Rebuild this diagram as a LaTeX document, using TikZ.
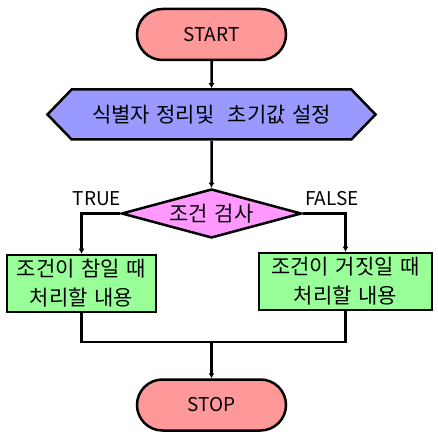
\documentclass[tikz,border=0pt]{standalone}
\usepackage{fontspec}
\setmainfont{Noto Sans CJK KR}[WordSpace=1.4]
\usetikzlibrary{arrows.meta,positioning,shapes.geometric,shapes.misc,shapes.symbols}
\definecolor{termred}{RGB}{255,153,153}
\definecolor{prepblue}{RGB}{153,153,255}
\definecolor{decpink}{RGB}{255,153,255}
\definecolor{procgreen}{RGB}{153,255,153}

\begin{document}
\begin{tikzpicture}[x=1pt,y=1pt,node distance=80pt,on grid,
  every node/.style={font=\fontsize{19}{29}\selectfont},
  kor/.style={font=\fontsize{21}{29}\selectfont},
  base/.style={draw,line width=2.5pt,inner sep=0pt},
  terminal/.style={base,rounded rectangle,fill=termred,minimum width=149pt,minimum height=51pt},
  prep/.style={base,kor,signal,signal to=west and east,signal pointer angle=92,fill=prepblue,minimum width=328pt,minimum height=50pt},
  decision/.style={base,kor,diamond,aspect=3.6,fill=decpink,minimum width=180pt,minimum height=49pt},
  process/.style={base,kor,rectangle,fill=procgreen,align=center,minimum height=57pt},
  line/.style={line width=2.5pt},
  >={Latex[length=5pt,width=6pt]}]
  \useasboundingbox (-211.5,34.5) rectangle (226.5,-400.5);

  \node[terminal] (start) {START};
  \node[prep] (init) [below=80pt of start] {식별자 정리및~~초기값 설정};
  \node[decision] (test) [below=99pt of init] {조건 검사};
  \node[process,minimum width=149pt] (yes) [below left=70pt and 130pt of test] {조건이 참일 때\\처리할 내용};
  \node[process,minimum width=173pt] (no) [below right=68pt and 134pt of test] {조건이 거짓일 때\\처리할 내용};
  \coordinate[below=128.5pt of test] (join);
  \node[terminal] (stop) [below=191.5pt of test] {STOP};

  \draw[line,->] (start) -- (init);
  \draw[line,->] (init) -- (test);
  \draw[line,->] (test.west) -| node[pos=0.3,above=3pt] {TRUE} (yes);
  \draw[line,->] (test.east) -| node[pos=0.34,above=3pt] {FALSE} (no);
  \draw[line] (yes) |- (join) -| (no);
  \draw[line,->] (join) -- (stop);
\end{tikzpicture}
\end{document}
